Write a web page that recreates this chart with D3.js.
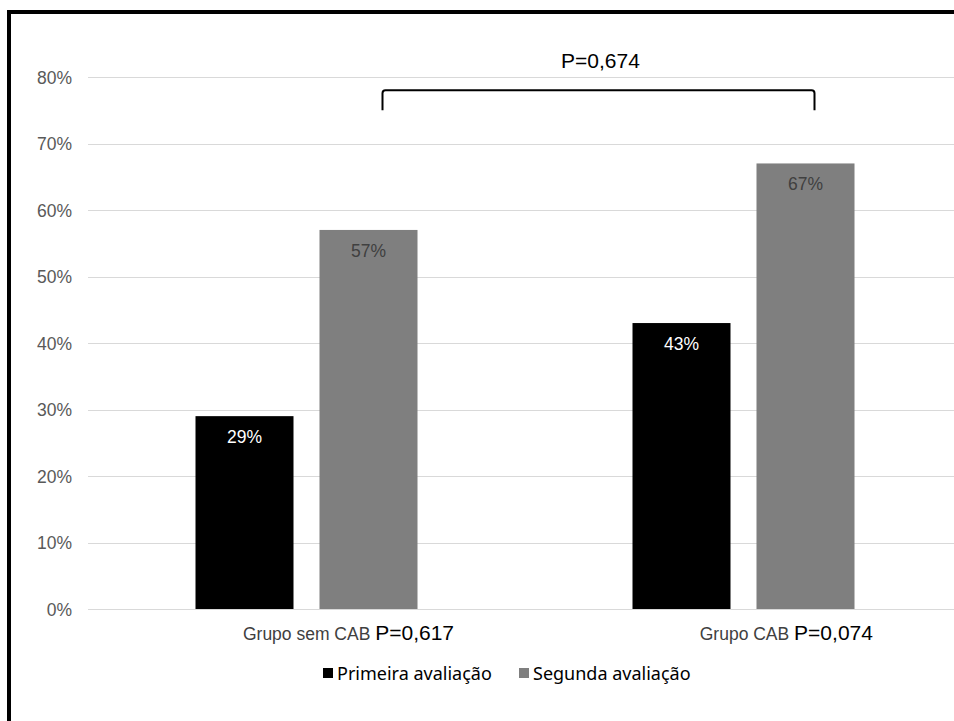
<!DOCTYPE html>
<html>
<head>
<meta charset="utf-8">
<script src="https://cdn.jsdelivr.net/npm/d3@7"></script>
<style>
  html, body { margin: 0; padding: 0; background: #fff; }
  svg { display: block; }
</style>
</head>
<body>
<script>
// Chart data
const categories = ["Grupo sem CAB", "Grupo CAB"];
const seriesNames = ["Primeira avaliação", "Segunda avaliação"];
const primeira = [29, 43];
const segunda = [57, 67];
const groupPValues = ["P=0,617", "P=0,074"];
const betweenPValue = "P=0,674";
const yTicks = [0, 10, 20, 30, 40, 50, 60, 70, 80];

const W = 954, H = 721;
const colors = ["#000000", "#7f7f7f"];
const labelColors = ["#ffffff", "#404040"];
const font = "'Liberation Sans', Arial, sans-serif";

const svg = d3.select("body").append("svg")
  .attr("width", W).attr("height", H);

svg.append("rect").attr("width", W).attr("height", H).attr("fill", "#fff");

// outer frame (cropped at right and bottom)
svg.append("path")
  .attr("d", `M9,${H + 5} L9,12 L${W + 5},12`)
  .attr("fill", "none").attr("stroke", "#000").attr("stroke-width", 4);

const plot = { left: 88, right: 962, top: 77, bottom: 609 };

const x0 = d3.scaleBand().domain(categories)
  .range([plot.left, plot.right]).paddingInner(0).paddingOuter(0);
const x1 = d3.scaleBand().domain(seriesNames)
  .range([0, 222]).paddingInner(26 / 124).paddingOuter(0);
const y = d3.scaleLinear().domain([0, 80]).range([plot.bottom, plot.top]);

// gridlines
svg.append("g").selectAll("line").data(yTicks).join("line")
  .attr("x1", plot.left).attr("x2", plot.right)
  .attr("y1", d => Math.round(y(d)) + 0.5).attr("y2", d => Math.round(y(d)) + 0.5)
  .attr("stroke", "#d9d9d9").attr("stroke-width", 1);

// y axis labels
const yAxis = d3.axisLeft(y).tickValues(yTicks).tickFormat(d => d + "%").tickSize(0).tickPadding(0);
const yg = svg.append("g").attr("transform", `translate(72,0)`).call(yAxis);
yg.select(".domain").remove();
yg.selectAll("text")
  .attr("fill", "#595959")
  .attr("dy", "0.36em")
  .style("font-family", font)
  .style("font-size", "17.5px");

// bars
const rows = categories.map((c, i) => ({ cat: c, vals: [primeira[i], segunda[i]] }));
const groups = svg.append("g").selectAll("g").data(rows).join("g")
  .attr("transform", d => `translate(${x0(d.cat) + x0.bandwidth() / 2 - 111},0)`);

groups.selectAll("rect").data(d => d.vals.map((v, j) => ({ v, j }))).join("rect")
  .attr("x", d => x1(seriesNames[d.j]))
  .attr("width", x1.bandwidth())
  .attr("y", d => y(d.v))
  .attr("height", d => y(0) - y(d.v))
  .attr("fill", d => colors[d.j]);

groups.selectAll("text.val").data(d => d.vals.map((v, j) => ({ v, j }))).join("text")
  .attr("class", "val")
  .attr("x", d => x1(seriesNames[d.j]) + x1.bandwidth() / 2)
  .attr("y", d => y(d.v) + 27)
  .attr("text-anchor", "middle")
  .attr("fill", d => labelColors[d.j])
  .style("font-family", font)
  .style("font-size", "17.5px")
  .text(d => d.v + "%");

// category labels with per-group p-values
categories.forEach((c, i) => {
  const cx = x0(c) + x0.bandwidth() / 2;
  const t = svg.append("text")
    .attr("y", 640)
    .style("font-family", font);
  t.append("tspan").attr("fill", "#404040").style("font-size", "17.5px").text(c + " ");
  t.append("tspan").attr("fill", "#000").style("font-size", "21px").text(groupPValues[i]);
  // center the combined label a little right of the group centre
  const bb = t.node().getBBox();
  t.attr("x", cx - bb.width / 2 + (i === 0 ? 42 : 43));
});

// legend
const legend = svg.append("g");
const legendX = [323, 519];
seriesNames.forEach((s, j) => {
  legend.append("rect")
    .attr("x", legendX[j]).attr("y", 668)
    .attr("width", 10).attr("height", 10)
    .attr("fill", colors[j]);
  legend.append("text")
    .attr("x", legendX[j] + 14).attr("y", 680)
    .attr("fill", "#000")
    .style("font-family", "'Noto Sans', sans-serif")
    .style("font-size", "18px")
    .text(s);
});

// comparison bracket between the two groups
const bx1 = x0(categories[0]) + x0.bandwidth() / 2 + 76;
const bx2 = x0(categories[1]) + x0.bandwidth() / 2 + 71;
const byTop = y(78), byBot = y(75);
svg.append("path")
  .attr("d", `M${bx1},${byBot} L${bx1},${byTop + 3} Q${bx1},${byTop} ${bx1 + 3},${byTop} L${bx2 - 3},${byTop} Q${bx2},${byTop} ${bx2},${byTop + 3} L${bx2},${byBot}`)
  .attr("fill", "none").attr("stroke", "#000").attr("stroke-width", 2);

svg.append("text")
  .attr("x", (bx1 + bx2) / 2 + 2).attr("y", 68)
  .attr("text-anchor", "middle")
  .attr("fill", "#000")
  .style("font-family", font)
  .style("font-size", "21px")
  .text(betweenPValue);
</script>
</body>
</html>
